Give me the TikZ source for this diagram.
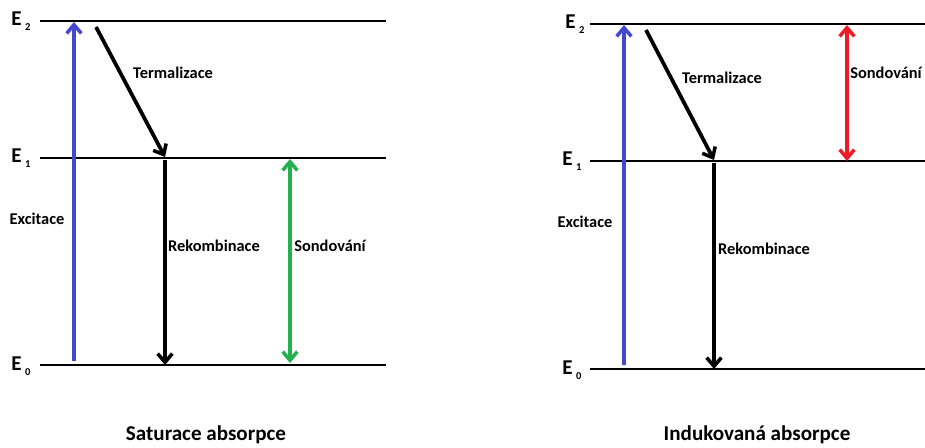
\documentclass[tikz,border=0pt]{standalone}
\usepackage{fontspec}
\setmainfont{Carlito}
\usetikzlibrary{arrows.meta,positioning}
\definecolor{excblue}{RGB}{68, 72, 204}
\definecolor{probegreen}{RGB}{34, 177, 76}
\definecolor{probered}{RGB}{237, 28, 36}
\newcommand{\lvl}[1]{E\,\raisebox{-0.45ex}{\small #1}}

\begin{document}
\begin{tikzpicture}[x=0.03cm, y=-0.03cm,
    level/.style={line width=2pt},
    tran/.style={line width=3.2pt, -{Straight Barb[length=2.6mm, width=4.4mm, line width=3pt]}},
    both/.style={line width=3.2pt, {Straight Barb[length=2.6mm, width=4.4mm, line width=3pt]}-{Straight Barb[length=2.6mm, width=4.4mm, line width=3pt]}},
    lab/.style={font=\bfseries\fontsize{14}{16}\selectfont, inner sep=1pt},
    elab/.style={font=\bfseries\fontsize{18}{20}\selectfont, inner sep=1pt},
    ttl/.style={font=\bfseries\fontsize{18}{20}\selectfont, inner sep=0pt}]
        \useasboundingbox (0,0) rectangle (925,447);

        % Saturace absorpce -- energy levels
        \coordinate (aE2l) at (40,21);  \coordinate (aE2r) at (386,21);
        \coordinate (aE1l) at (40,158); \coordinate (aE1r) at (386,158);
        \coordinate (aE0l) at (40,365); \coordinate (aE0r) at (386,365);
        \draw[level] (aE2l) -- (aE2r);
        \draw[level] (aE1l) -- (aE1r);
        \draw[level] (aE0l) -- (aE0r);
        \node[elab] (aL2) at (21,21) {\lvl{2}};
        \node[elab] (aL1) at (21,158) {\lvl{1}};
        \node[elab] (aL0) at (21,366) {\lvl{0}};

        % Saturace absorpce -- transitions
        \coordinate (aExS) at (74,361); \coordinate (aExE) at (74,22);
        \draw[tran, excblue] (aExS) -- (aExE);
        \node[lab] (aExc) at (37,219) {Excitace};
        \coordinate (aThS) at (96,27); \coordinate (aThE) at (165,157);
        \draw[tran] (aThS) -- (aThE);
        \node[lab] (aTer) at (173,73) {Termalizace};
        \coordinate (aReS) at (165,160); \coordinate (aReE) at (165,365);
        \draw[tran] (aReS) -- (aReE);
        \node[lab] (aRek) at (214,246) {Rekombinace};
        \coordinate (aPrT) at (290,159); \coordinate (aPrB) at (290,363);
        \draw[both, probegreen] (aPrT) -- (aPrB);
        \node[lab] (aSon) at (330,246) {Sondování};
        \node[ttl] (aTitle) at (206,435) {Saturace absorpce};

        % Indukovana absorpce -- energy levels
        \coordinate (bE2l) at (590,24);  \coordinate (bE2r) at (925,24);
        \coordinate (bE1l) at (590,161); \coordinate (bE1r) at (925,161);
        \coordinate (bE0l) at (590,369); \coordinate (bE0r) at (925,369);
        \draw[level] (bE2l) -- (bE2r);
        \draw[level] (bE1l) -- (bE1r);
        \draw[level] (bE0l) -- (bE0r);
        \node[elab] (bL2) at (575,24) {\lvl{2}};
        \node[elab] (bL1) at (572,161) {\lvl{1}};
        \node[elab] (bL0) at (572,370) {\lvl{0}};

        % Indukovana absorpce -- transitions
        \coordinate (bExS) at (624,365); \coordinate (bExE) at (624,25);
        \draw[tran, excblue] (bExS) -- (bExE);
        \node[lab] (bExc) at (585,222) {Excitace};
        \coordinate (bThS) at (646,30); \coordinate (bThE) at (714,160);
        \draw[tran] (bThS) -- (bThE);
        \node[lab] (bTer) at (722,78) {Termalizace};
        \coordinate (bReS) at (714,163); \coordinate (bReE) at (714,369);
        \draw[tran] (bReS) -- (bReE);
        \node[lab] (bRek) at (764,249) {Rekombinace};
        \coordinate (bPrT) at (847,25); \coordinate (bPrB) at (847,161);
        \draw[both, probered] (bPrT) -- (bPrB);
        \node[lab] (bSon) at (886,73) {Sondování};
        \node[ttl] (bTitle) at (757,435) {Indukovaná absorpce};
\end{tikzpicture}
\end{document}
